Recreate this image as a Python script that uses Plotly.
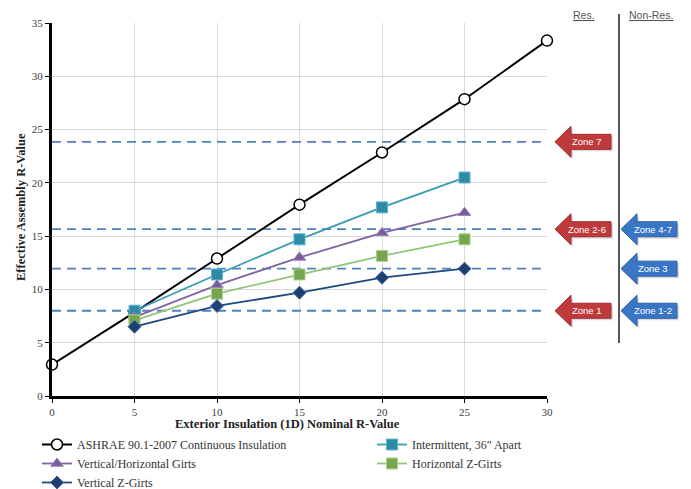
import plotly.graph_objects as go

# ---------------- data ----------------
x_nominal = [0, 5, 10, 15, 20, 25, 30]
ashrae_ci = [2.95, 7.85, 12.9, 17.95, 22.85, 27.85, 33.35]

x_girts = [5, 10, 15, 20, 25]
intermittent_36 = [8.0, 11.4, 14.7, 17.7, 20.5]
vert_horiz_girts = [7.4, 10.4, 13.0, 15.3, 17.2]
horizontal_z = [7.1, 9.6, 11.4, 13.15, 14.7]
vertical_z = [6.5, 8.45, 9.7, 11.1, 11.95]

zone_lines = [23.85, 15.65, 11.95, 8.0]
res_zones = ["Zone 7", "Zone 2-6", "Zone 1"]
res_levels = [23.85, 15.65, 8.0]
nonres_zones = ["Zone 4-7", "Zone 3", "Zone 1-2"]
nonres_levels = [15.65, 11.95, 8.0]

x_ticks = [0, 5, 10, 15, 20, 25, 30]
y_ticks = [0, 5, 10, 15, 20, 25, 30, 35]

# ---------------- geometry ----------------
# the page adds an 8px body margin, so the figure is 8px smaller than the window
FONT = "Liberation Serif"
OFF = 8
W, H = 691 - OFF, 489 - OFF
ML, MT = 52 - OFF, 23 - OFF
PW, PH = 495, 373
MR = W - ML - PW
MB = H - MT - PH
YMAX = 35


def px_x(px):
    """reference-window pixel x -> paper fraction"""
    return (px - 52) / PW


def px_y(py):
    """reference-window pixel y -> paper fraction"""
    return (396 - py) / PH


fig = go.Figure()

for v in zone_lines:
    fig.add_trace(go.Scatter(
        x=[0, 29.8], y=[v, v], mode="lines", showlegend=False, hoverinfo="skip",
        line=dict(color="#4f81bd", width=1.8, dash="9px,6px")))

fig.add_trace(go.Scatter(
    x=x_nominal, y=ashrae_ci, mode="lines+markers",
    name="ASHRAE 90.1-2007 Continuous Insulation", legend="legend",
    line=dict(color="#000000", width=2),
    marker=dict(symbol="circle", size=11, color="white",
                line=dict(color="#000000", width=1.5)),
    cliponaxis=False))

fig.add_trace(go.Scatter(
    x=x_girts, y=intermittent_36, mode="lines+markers",
    name="Intermittent, 36\" Apart", legend="legend2",
    line=dict(color="#3a9bb5", width=1.8),
    marker=dict(symbol="square", size=11, color="#2f8aa5",
                line=dict(color="#5cb8cf", width=1)),
    cliponaxis=False))

fig.add_trace(go.Scatter(
    x=x_girts, y=vert_horiz_girts, mode="lines+markers",
    name="Vertical/Horizontal Girts", legend="legend",
    line=dict(color="#8064a2", width=1.8),
    marker=dict(symbol="triangle-up", size=11, color="#7a5c9e",
                line=dict(color="#9a80bb", width=1)),
    cliponaxis=False))

fig.add_trace(go.Scatter(
    x=x_girts, y=horizontal_z, mode="lines+markers",
    name="Horizontal Z-Girts", legend="legend2",
    line=dict(color="#92c47a", width=1.8),
    marker=dict(symbol="square", size=11, color="#77a54e",
                line=dict(color="#a9d18e", width=1)),
    cliponaxis=False))

fig.add_trace(go.Scatter(
    x=x_girts, y=vertical_z, mode="lines+markers",
    name="Vertical Z-Girts", legend="legend",
    line=dict(color="#1f497d", width=1.8),
    marker=dict(symbol="diamond", size=10, color="#1f3f73",
                line=dict(color="#3d6aa5", width=1)),
    cliponaxis=False))

# ---------------- arrows (zone labels) ----------------
arrow_path = "M0,0 L16,15.5 L16,7.5 L56,7.5 L56,-7.5 L16,-7.5 L16,-15.5 Z"
shapes = []
annotations = []


def add_arrow(tip_px, level, label, color, edge):
    shapes.append(dict(
        type="path", path=arrow_path, xref="paper", yref="paper",
        xsizemode="pixel", ysizemode="pixel",
        xanchor=px_x(tip_px + 2), yanchor=level / YMAX - 2 / PH,
        fillcolor="rgba(0,0,0,0.15)", line=dict(width=0), layer="above"))
    shapes.append(dict(
        type="path", path=arrow_path, xref="paper", yref="paper",
        xsizemode="pixel", ysizemode="pixel",
        xanchor=px_x(tip_px), yanchor=level / YMAX,
        fillcolor=color, line=dict(color=edge, width=1), layer="above"))
    annotations.append(dict(
        x=px_x(tip_px + 32), y=level, xref="paper", yref="y",
        xanchor="center", yanchor="middle",
        text=label, showarrow=False,
        font=dict(family="Liberation Sans", size=9.5, color="white")))


for lbl, lv in zip(res_zones, res_levels):
    add_arrow(555, lv, lbl, "#c0393b", "#a02a2c")
for lbl, lv in zip(nonres_zones, nonres_levels):
    add_arrow(621, lv, lbl, "#3a76c6", "#2c5fa6")

# separator line
shapes.append(dict(type="line", xref="paper", yref="paper",
                   x0=px_x(619), x1=px_x(619), y0=px_y(14), y1=px_y(343),
                   line=dict(color="#555555", width=2)))

annotations.append(dict(x=px_x(584), y=px_y(15), xref="paper", yref="paper",
                        xanchor="center", yanchor="middle",
                        text="<u>Res.</u>", showarrow=False,
                        font=dict(family="Liberation Sans", size=10.5, color="#555555")))
annotations.append(dict(x=px_x(651), y=px_y(15), xref="paper", yref="paper",
                        xanchor="center", yanchor="middle",
                        text="<u>Non-Res.</u>", showarrow=False,
                        font=dict(family="Liberation Sans", size=10.5, color="#555555")))

# axis titles
annotations.append(dict(x=px_x(287), y=px_y(424), xref="paper", yref="paper",
                        xanchor="center", yanchor="middle",
                        text="<b>Exterior Insulation (1D) Nominal R-Value</b>",
                        showarrow=False,
                        font=dict(family=FONT, size=12.5, color="#222222")))
annotations.append(dict(x=px_x(21), y=px_y(207), xref="paper", yref="paper",
                        xanchor="center", yanchor="middle",
                        text="<b>Effective Assembly R-Value</b>", textangle=-90,
                        showarrow=False,
                        font=dict(family=FONT, size=12.5, color="#222222")))

legend_common = dict(orientation="v", xanchor="left", yanchor="top",
                     font=dict(family=FONT, size=12, color="#333333"),
                     itemwidth=30, tracegroupgap=0, borderwidth=0,
                     bgcolor="rgba(0,0,0,0)")

fig.update_layout(
    width=W, height=H,
    margin=dict(l=ML, r=MR, t=MT, b=MB, autoexpand=False),
    paper_bgcolor="white", plot_bgcolor="white",
    font=dict(family=FONT, size=11, color="#404040"),
    shapes=shapes, annotations=annotations,
    showlegend=True,
    legend=dict(x=px_x(37), y=px_y(430), **legend_common),
    legend2=dict(x=px_x(372), y=px_y(430), **legend_common),
    xaxis=dict(range=[0, 30], tickvals=x_ticks, showgrid=True,
               gridcolor="#d9d9d9", gridwidth=1, zeroline=False,
               showline=True, linecolor="#000000", linewidth=3,
               ticks="outside", ticklen=4, tickcolor="#000000",
               tickfont=dict(family=FONT, size=11, color="#404040")),
    yaxis=dict(range=[0, 35], tickvals=y_ticks, showgrid=True,
               gridcolor="#d9d9d9", gridwidth=1, zeroline=False,
               showline=True, linecolor="#000000", linewidth=3,
               ticks="outside", ticklen=4, tickcolor="#000000",
               tickfont=dict(family=FONT, size=11, color="#404040")),
)

fig.write_html("out.html")
